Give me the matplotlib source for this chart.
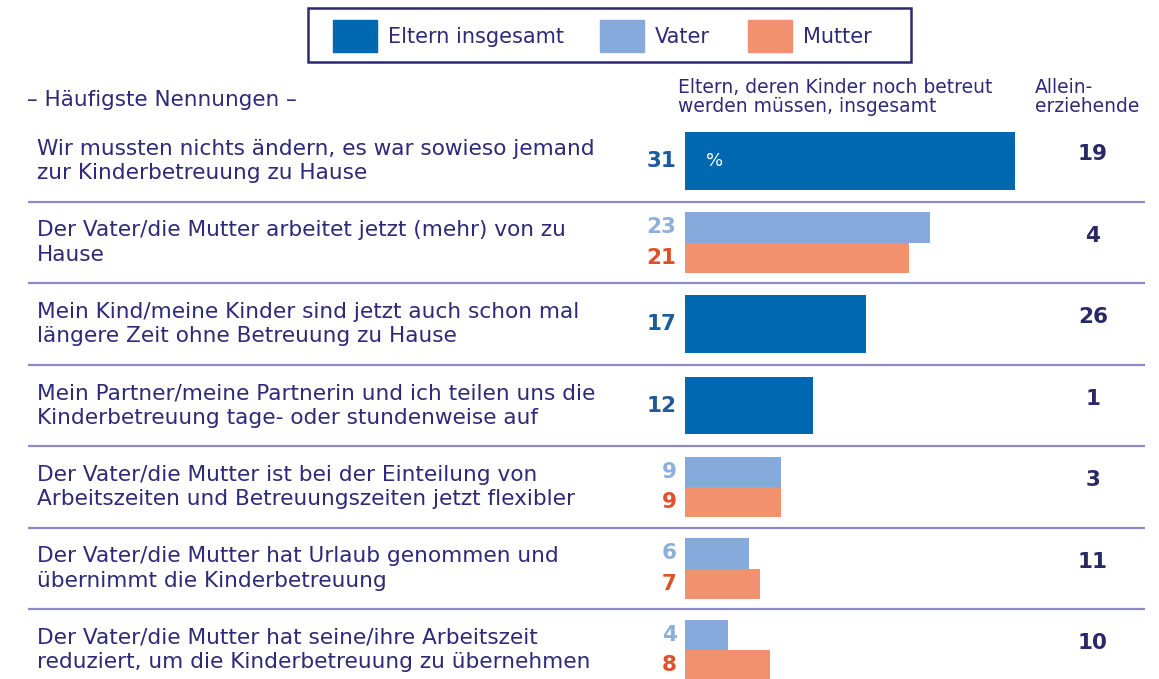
import matplotlib

matplotlib.use("Agg")
import matplotlib.pyplot as plt
from matplotlib.patches import Rectangle
import numpy as np

# data
labels = [
    "Wir mussten nichts ändern, es war sowieso jemand\nzur Kinderbetreuung zu Hause",
    "Der Vater/die Mutter arbeitet jetzt (mehr) von zu\nHause",
    "Mein Kind/meine Kinder sind jetzt auch schon mal\nlängere Zeit ohne Betreuung zu Hause",
    "Mein Partner/meine Partnerin und ich teilen uns die\nKinderbetreuung tage- oder stundenweise auf",
    "Der Vater/die Mutter ist bei der Einteilung von\nArbeitszeiten und Betreuungszeiten jetzt flexibler",
    "Der Vater/die Mutter hat Urlaub genommen und\nübernimmt die Kinderbetreuung",
    "Der Vater/die Mutter hat seine/ihre Arbeitszeit\nreduziert, um die Kinderbetreuung zu übernehmen",
]
eltern = [31, np.nan, 17, 12, np.nan, np.nan, np.nan]
vater = [np.nan, 23, np.nan, np.nan, 9, 6, 4]
mutter = [np.nan, 21, np.nan, np.nan, 9, 7, 8]
allein = [19, 4, 26, 1, 3, 11, 10]
legend_names = ["Eltern insgesamt", "Vater", "Mutter"]

C_ELTERN = "#0067b1"
C_VATER = "#86a9dc"
C_MUTTER = "#f2916f"
C_TEXT = "#2e2a78"
C_NUM_ELTERN = "#1d5b9b"
C_NUM_VATER = "#8eafdb"
C_NUM_MUTTER = "#e0502a"
C_ALLEIN = "#2b2868"
C_LINE = "#8c89c6"

W, H = 1159, 679
ROW0, STEP = 161, 81.5      # pixel centre of first row, row pitch
BAR_X0, PX_PER_PCT = 685, 10.65

plt.rcParams["font.family"] = ["DejaVu Sans"]

fig = plt.figure(figsize=(W / 100, H / 100), dpi=100)
ylim = ((H - ROW0) / STEP, -ROW0 / STEP)

# background axes: x in pixels, y in row units
ax = fig.add_axes([0, 0, 1, 1])
ax.set_xlim(0, W)
ax.set_ylim(*ylim)
ax.axis("off")

# bar axes: x in percent, y in row units
bx = fig.add_axes([BAR_X0 / W, 0, 1 - BAR_X0 / W, 1])
bx.set_xlim(0, (W - BAR_X0) / PX_PER_PCT)
bx.set_ylim(*ylim)
bx.axis("off")


def fx(px):
    return px / W


def fy(py):
    return 1 - py / H


rows = np.arange(len(labels))
single_h, pair_h = 0.71, 0.37

bx.barh(rows, eltern, height=single_h, color=C_ELTERN)
bx.barh(rows - pair_h / 2, vater, height=pair_h, color=C_VATER)
bx.barh(rows + pair_h / 2, mutter, height=pair_h, color=C_MUTTER)

num_kw = dict(ha="right", va="center", fontsize=15.5, fontweight="bold")
for i in rows:
    if not np.isnan(eltern[i]):
        bx.text(-0.8, i, f"{eltern[i]:.0f}", color=C_NUM_ELTERN, **num_kw)
    if not np.isnan(vater[i]):
        bx.text(-0.8, i - pair_h / 2, f"{vater[i]:.0f}", color=C_NUM_VATER, **num_kw)
        bx.text(-0.8, i + pair_h / 2, f"{mutter[i]:.0f}", color=C_NUM_MUTTER, **num_kw)
    ax.text(37, i, labels[i], ha="left", va="center", fontsize=15.6,
            color=C_TEXT, linespacing=1.3)
    ax.text(1093, i - 0.08, str(allein[i]), ha="center", va="center",
            fontsize=15.5, fontweight="bold", color=C_ALLEIN)

bx.text(2, 0, "%", ha="left", va="center", fontsize=13, color="white")

ax.hlines(rows[:-1] + 0.5, 28, 1145, color=C_LINE, linewidth=1.6)

# column headers
fig.text(fx(27), fy(100), "– Häufigste Nennungen –", ha="left", va="center",
         fontsize=15.5, color=C_TEXT)
fig.text(fx(678), fy(97), "Eltern, deren Kinder noch betreut\nwerden müssen, insgesamt",
         ha="left", va="center", fontsize=13.5, color=C_TEXT, linespacing=1.05)
fig.text(fx(1035), fy(97), "Allein-\nerziehende", ha="left", va="center",
         fontsize=13.5, color=C_TEXT, linespacing=1.05)

# legend box drawn by hand
fig.patches.append(Rectangle((fx(308), fy(62)), fx(911 - 308), (62 - 8) / H,
                             transform=fig.transFigure, fill=False,
                             edgecolor="#2d2a72", linewidth=1.8))
legend_x = [333, 600, 748]
for x0, name, color in zip(legend_x, legend_names, [C_ELTERN, C_VATER, C_MUTTER]):
    fig.patches.append(Rectangle((fx(x0), fy(52)), fx(44), 32 / H,
                                 transform=fig.transFigure, color=color))
    fig.text(fx(x0 + 55), fy(37), name, ha="left", va="center",
             fontsize=15, color=C_TEXT)

fig.savefig("out.png", dpi=100)
